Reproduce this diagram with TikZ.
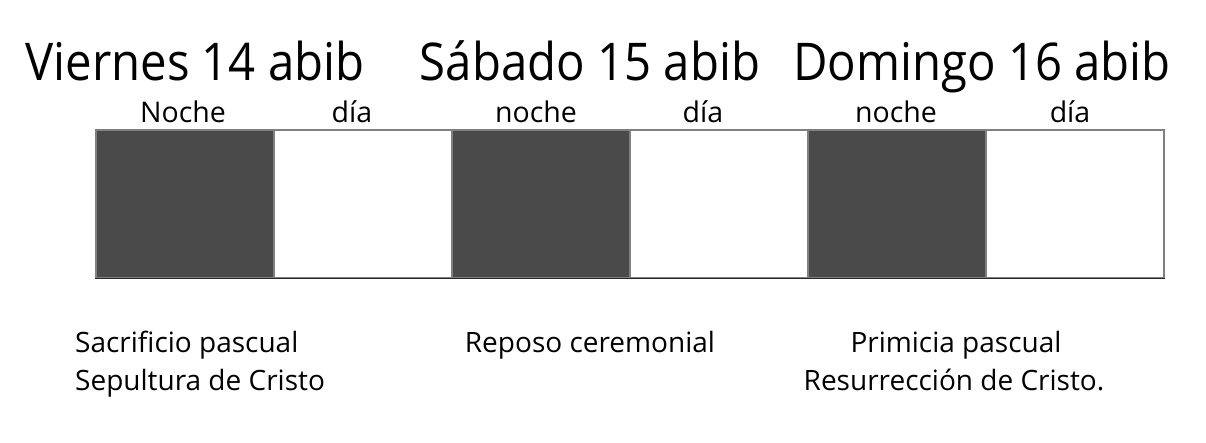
\documentclass[tikz,border=0pt]{standalone}
\usepackage{fontspec}
\setmainfont{Open Sans}
\newfontfamily\headfont[FakeStretch=0.91]{Open Sans}
\begin{document}
\begin{tikzpicture}[x=1pt,y=-1pt,
  head/.style={anchor=base,font=\headfont\fontsize{52}{60}\selectfont,inner sep=0pt},
  lab/.style={anchor=base,font=\fontsize{28.5}{34}\selectfont,inner sep=0pt},
  note/.style={anchor=base west,font=\fontsize{28}{34}\selectfont,inner sep=0pt},
  noteC/.style={anchor=base,font=\fontsize{28}{34}\selectfont,inner sep=0pt},
  cell/.style={minimum width=178pt,minimum height=148pt,inner sep=0pt,line width=1.2pt},
  nightbox/.style={cell,draw=black!50,fill=black!71},
  daybox/.style={cell,draw=black!50,fill=white}]
\useasboundingbox (0,0) rectangle (1206,442);
\node[nightbox] (b1) at (185,204) {};
\node[daybox] (b2) at (363,204) {};
\node[nightbox] (b3) at (541,204) {};
\node[daybox] (b4) at (719,204) {};
\node[nightbox] (b5) at (897,204) {};
\node[daybox] (b6) at (1075,204) {};
\draw[black!85,line width=1.2pt] (b1.south west) -- (b6.south east);
\node[head] (h1) at (195,80) {Viernes 14 abib};
\node[head] (h2) at (590,80) {Sábado 15 abib};
\node[head] (h3) at (982,80) {Domingo 16 abib};
\node[lab] (l1) at (183,122) {Noche};
\node[lab] (l2) at (352,122) {día};
\node[lab] (l3) at (536,122) {noche};
\node[lab] (l4) at (703,122) {día};
\node[lab] (l5) at (896,122) {noche};
\node[lab] (l6) at (1070,122) {día};
\node[note] (n1a) at (75,352) {Sacrificio pascual};
\node[note] (n1b) at (75,390) {Sepultura de Cristo};
\node[noteC] (n2) at (590,352) {Reposo ceremonial};
\node[noteC] (n3a) at (956,352) {Primicia pascual};
\node[noteC] (n3b) at (954,390) {Resurrección de Cristo.};
\end{tikzpicture}
\end{document}
